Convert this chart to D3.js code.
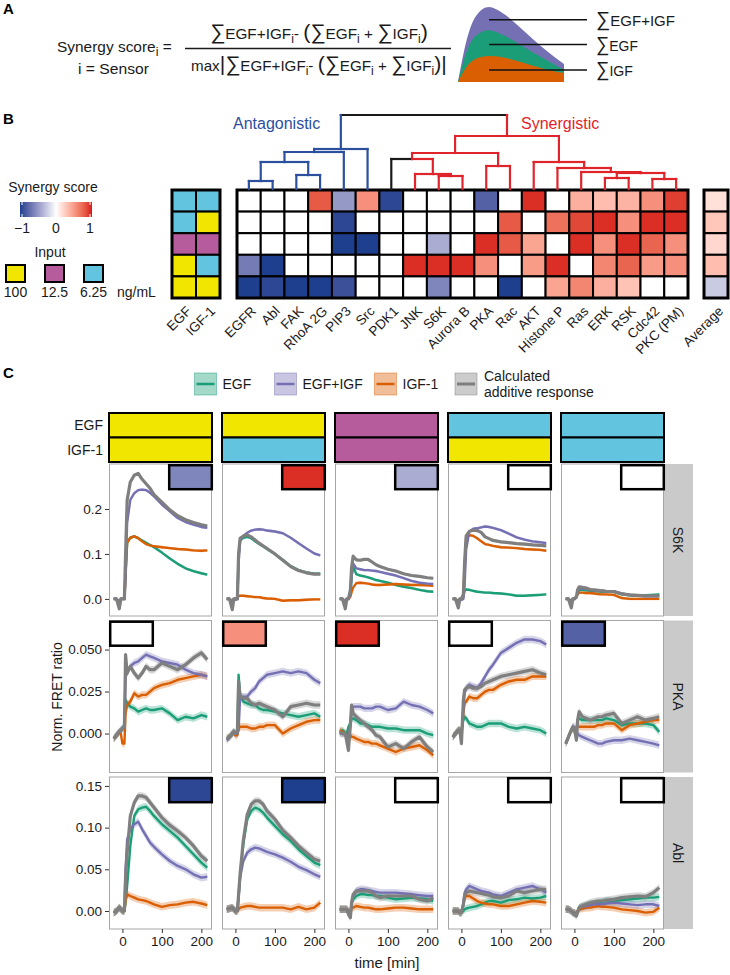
<!DOCTYPE html>
<html><head><meta charset="utf-8">
<script src="https://cdn.jsdelivr.net/npm/d3@7"></script>
<style>body{margin:0;background:#fff}svg{font-family:"Liberation Sans",Arial,Helvetica,sans-serif}</style>
</head><body><svg id="c" width="730" height="975"></svg>
<script>
// ================= DATA =================
const sensors=["EGFR","Abl","FAK","RhoA 2G","PIP3","Src","PDK1","JNK","S6K","Aurora B","PKA","Rac","AKT","Histone P","Ras","ERK","RSK","Cdc42","PKC (PM)"];
const inputNames=["EGF","IGF-1"];
const egfDose=["6.25","6.25","12.5","100","100"];
const igfDose=["6.25","100","12.5","6.25","100"];
const doseLevels=["100","12.5","6.25"];
// synergy scores, heatmap rows top->bottom
const syn_cc=[0,0,0,0.8,-0.5,0.55,-0.95,0,0,0,-0.8,0,0.95,0,0.4,0.33,0.38,0.55,0.9];
const syn_cy=[0,0,0,0,-0.95,0,0,0,0,0,0,0.8,0,0.7,0.87,0.95,0.55,0.95,0.95];
const syn_mm=[0,0,0,0,-1,-1,0,0,-0.4,0,0.95,0.8,0.45,0,0.95,0.55,0.95,0.75,0.55];
const syn_yc=[-0.65,-1,0,0,0,0,0,0.95,0.95,0.95,0.55,0,0.5,0.95,0,0.6,0.75,0.5,0.55];
const syn_yy=[-1,-0.95,-1,-1,-0.9,0,0,0,-0.6,0,0,-1,0,0.45,0.6,0.4,0.3,0,0];
const avgScore=[0.15,0.28,0.2,0.33,-0.25];
// dendrogram merges (hclust style: negative = leaf, positive = merge #)
const mergeA=[-1,-3,1,3,4,-9,-8,-7,-11,8,-16,-18,11,-15,-14,-13,10,5];
const mergeB=[-2,-4,2,-5,-6,-10,6,7,-12,9,-17,-19,12,13,14,15,16,17];
const mergeH=[8,14,27,37,40,13,15,30,23,36,11,10,16,17,21,27,53,74];
const leafGroup=["A","A","A","A","A","A","N","S","S","S","S","S","S","S","S","S","S","S","S"];
const groupLabels=["Antagonistic","Synergistic"];
const scoreTicks=[-1,0,1];
// panel A sketch curves
const sketchT=[0,0.08,0.17,0.29,0.42,0.56,0.7,0.85,1.0];
const sketchSum=[0,0.55,0.88,1.0,0.92,0.76,0.58,0.4,0.24];
const sketchEGF=[0,0.4,0.62,0.69,0.63,0.52,0.4,0.28,0.16];
const sketchIGF=[0,0.2,0.31,0.347,0.33,0.28,0.22,0.16,0.12];
// panel C time courses (5 input conditions each: yy, yc, mm, cy, cc)
const times=[-22,-15,-8,-4,0,5,8,12,20,30,40,50,60,70,80,100,120,140,160,180,200,215];
const S6K_EGF=[
[0,0,-0.01,0,0,0,0.06,0.125,0.136,0.139,0.135,0.13,0.125,0.12,0.115,0.103,0.09,0.078,0.068,0.062,0.057,0.054],
[0,0,-0.01,0,0,0,0.095,0.13,0.136,0.138,0.135,0.128,0.122,0.117,0.111,0.1,0.087,0.073,0.064,0.059,0.056,0.056],
[0,0,-0.008,0,0,0.01,0.05,0.072,0.055,0.052,0.05,0.048,0.045,0.042,0.04,0.036,0.031,0.027,0.024,0.02,0.017,0.016],
[0,0,-0.005,0,0,0.005,0.018,0.021,0.02,0.018,0.016,0.015,0.014,0.014,0.013,0.012,0.01,0.007,0.007,0.008,0.009,0.01],
[0,0,-0.005,0,0,0.003,0.012,0.02,0.02,0.019,0.018,0.017,0.017,0.016,0.016,0.016,0.01,0.008,0.008,0.008,0.009,0.01]];
const S6K_IGF=[
[0,0,-0.01,0,0,0,0.05,0.125,0.136,0.139,0.135,0.128,0.122,0.119,0.117,0.115,0.113,0.111,0.11,0.108,0.107,0.108],
[0,0,-0.005,0,0,0.004,0.006,0.007,0.007,0.006,0.005,0.004,0.004,0.002,0.001,0,-0.004,-0.003,-0.003,-0.002,-0.001,-0.001],
[0,0,-0.005,0,0,0.005,0.015,0.025,0.035,0.036,0.035,0.034,0.032,0.031,0.031,0.032,0.033,0.032,0.031,0.031,0.03,0.029],
[0,0,-0.005,0,0,0.01,0.07,0.135,0.142,0.14,0.135,0.128,0.122,0.12,0.118,0.115,0.114,0.113,0.111,0.11,0.109,0.107],
[0,0,-0.005,0,0,0.003,0.01,0.014,0.014,0.013,0.013,0.012,0.011,0.01,0.01,0.009,0.002,0,0,0,0,0]];
const S6K_BOTH=[
[0,0,-0.005,0,0,0,0.05,0.17,0.22,0.235,0.242,0.243,0.242,0.236,0.228,0.21,0.195,0.18,0.171,0.165,0.16,0.158],
[0,0,-0.005,0,-0.002,0,0.08,0.13,0.14,0.147,0.152,0.154,0.155,0.154,0.152,0.15,0.146,0.136,0.124,0.112,0.101,0.097],
[0,0,-0.005,0,0,0.01,0.05,0.079,0.068,0.066,0.064,0.064,0.063,0.062,0.06,0.056,0.052,0.046,0.04,0.036,0.034,0.033],
[0,0,-0.008,-0.003,-0.002,0,0.03,0.11,0.15,0.156,0.157,0.159,0.161,0.16,0.158,0.153,0.145,0.137,0.132,0.128,0.126,0.124],
[0,0,-0.006,0,0,0.004,0.015,0.024,0.023,0.022,0.02,0.019,0.018,0.018,0.017,0.017,0.012,0.009,0.007,0.006,0.006,0.006]];
const S6K_CALC=[
[0,0,-0.022,0,0,0,0.1,0.22,0.26,0.275,0.279,0.266,0.256,0.246,0.232,0.215,0.198,0.185,0.176,0.17,0.165,0.162],
[0,0,-0.024,0,0,0,0.1,0.135,0.14,0.142,0.138,0.131,0.124,0.118,0.112,0.1,0.086,0.072,0.063,0.058,0.055,0.055],
[0,0,-0.022,0,0,0.02,0.07,0.095,0.087,0.086,0.088,0.088,0.082,0.076,0.072,0.066,0.062,0.056,0.052,0.05,0.047,0.046],
[0,0,-0.02,0,0,0.01,0.08,0.14,0.15,0.153,0.152,0.148,0.138,0.134,0.13,0.127,0.125,0.123,0.122,0.12,0.119,0.118],
[0,0,-0.02,0,0,0.005,0.02,0.027,0.026,0.024,0.021,0.02,0.019,0.018,0.017,0.016,0.011,0.009,0.008,0.007,0.007,0.007]];
const PKA_EGF=[
[-0.003,-0.001,0.001,0.002,0.003,0.004,0.02,0.018,0.016,0.015,0.013,0.014,0.015,0.014,0.014,0.015,0.012,0.008,0.01,0.009,0.011,0.01],
[-0.003,-0.002,0,0.001,0,0.001,0.035,0.023,0.019,0.018,0.017,0.017,0.015,0.014,0.014,0.013,0.012,0.011,0.01,0.011,0.012,0.01],
[0.001,0.002,0,0,0.004,0.006,0.009,0.009,0.008,0.006,0.006,0.005,0.004,0.004,0.004,0.003,0.003,0.002,0.002,0.002,0,-0.001],
[-0.002,0,0.002,0.002,0.002,0.008,0.01,0.009,0.006,0.005,0.004,0.004,0.005,0.006,0.006,0.006,0.004,0.003,0.004,0.003,0.002,0],
[-0.006,-0.002,0.002,0.003,0.002,0.002,0.008,0.009,0.008,0.008,0.008,0.008,0.008,0.008,0.009,0.008,0.005,0.006,0.006,0.006,0.005,0.001]];
const PKA_IGF=[
[-0.003,-0.001,0.001,0,-0.006,-0.006,0.012,0.017,0.019,0.024,0.022,0.023,0.023,0.025,0.027,0.029,0.03,0.032,0.033,0.034,0.035,0.034],
[-0.003,-0.002,0,0.001,-0.001,-0.001,0.003,0.004,0.004,0.004,0.003,0.003,0.004,0.004,0.005,0.005,0,0.003,0.005,0.007,0.008,0.008],
[0.002,0.001,0,-0.001,-0.001,-0.001,-0.002,-0.002,-0.003,-0.004,-0.005,-0.005,-0.006,-0.006,-0.007,-0.009,-0.011,-0.009,-0.008,-0.007,-0.01,-0.013],
[-0.002,0,0.002,0.002,0,0.012,0.018,0.019,0.022,0.021,0.021,0.023,0.025,0.026,0.026,0.029,0.031,0.032,0.032,0.034,0.034,0.034],
[-0.006,-0.002,0.002,0.003,0.002,0.002,0.004,0.004,0.004,0.004,0.004,0.004,0.005,0.005,0.006,0.006,0.002,0.005,0.006,0.007,0.008,0.008]];
const PKA_BOTH=[
[-0.003,-0.001,0.001,0.002,0.003,0.004,0.034,0.036,0.04,0.042,0.043,0.045,0.047,0.046,0.045,0.043,0.042,0.041,0.038,0.036,0.035,0.034],
[-0.004,-0.002,0,0.001,0,0,0.002,0.022,0.022,0.022,0.025,0.027,0.031,0.033,0.035,0.036,0.037,0.036,0.037,0.036,0.032,0.03],
[0,0,0,-0.002,-0.004,0.005,0.014,0.016,0.016,0.016,0.015,0.015,0.015,0.016,0.016,0.014,0.015,0.019,0.017,0.016,0.014,0.012],
[-0.002,0,0.002,0.002,-0.004,0.015,0.024,0.027,0.029,0.028,0.027,0.03,0.034,0.038,0.041,0.048,0.051,0.054,0.056,0.056,0.055,0.053],
[-0.006,-0.002,0.002,0.004,0.004,-0.003,0,-0.001,-0.002,-0.003,-0.004,-0.005,-0.006,-0.006,-0.005,-0.004,-0.004,-0.003,-0.004,-0.005,-0.006,-0.007]];
const PKA_CALC=[
[-0.003,-0.001,0.001,0.002,0.003,0.004,0.047,0.036,0.04,0.036,0.033,0.036,0.04,0.038,0.038,0.042,0.04,0.038,0.041,0.045,0.048,0.044],
[-0.003,-0.002,0,0.001,0,0.001,0.031,0.022,0.021,0.021,0.018,0.017,0.018,0.017,0.016,0.014,0.01,0.016,0.017,0.018,0.017,0.017],
[0.001,0,0,-0.005,-0.01,0.005,0.017,0.012,0.01,0.008,0.006,0.004,0.002,-0.001,-0.002,-0.008,-0.006,-0.009,-0.005,-0.002,-0.008,-0.011],
[-0.002,0,0.002,0.002,-0.006,0.02,0.026,0.027,0.028,0.027,0.027,0.028,0.03,0.031,0.032,0.034,0.035,0.036,0.037,0.038,0.036,0.035],
[-0.006,-0.002,0.002,0.004,0.003,-0.004,0.008,0.013,0.01,0.009,0.008,0.009,0.01,0.01,0.011,0.012,0.006,0.008,0.01,0.008,0.009,0.01]];
const ABL_EGF=[
[-0.002,0,0.004,0.002,0,0,0.01,0.03,0.078,0.114,0.122,0.124,0.125,0.12,0.114,0.104,0.096,0.088,0.078,0.068,0.058,0.052],
[0.002,0.003,0.004,0.002,0,0,0.018,0.042,0.08,0.11,0.12,0.124,0.122,0.118,0.112,0.102,0.092,0.084,0.074,0.066,0.058,0.055],
[0.002,0.002,0.002,0.002,0,-0.004,0.008,0.014,0.018,0.02,0.02,0.019,0.019,0.018,0.018,0.016,0.014,0.015,0.016,0.015,0.014,0.012],
[0,0,0,-0.002,-0.002,0,0.002,0.003,0.004,0.005,0.006,0.008,0.01,0.012,0.012,0.01,0.013,0.014,0.016,0.015,0.016,0.018],
[0.002,0.002,0,-0.002,-0.002,-0.004,0,0.004,0.005,0.007,0.008,0.009,0.01,0.011,0.012,0.012,0.013,0.014,0.015,0.016,0.016,0.017]];
const ABL_IGF=[
[-0.002,0,0.004,0.002,0,0,0.012,0.02,0.018,0.016,0.014,0.013,0.012,0.01,0.008,0.005,0.007,0.008,0.01,0.011,0.009,0.007],
[0.002,0.003,0.004,0.002,0,0,0.002,0.004,0.005,0.006,0.006,0.005,0.004,0.004,0.004,0.004,0.004,0.002,0.005,0.002,0.004,0.01],
[0.002,0.002,0.002,0.002,0,-0.002,0.003,0.004,0.006,0.005,0.004,0.004,0.003,0.002,0.002,0.003,0.004,0.004,0.003,0.002,0.002,0.002],
[0,0,0,-0.002,-0.002,0.008,0.015,0.018,0.018,0.015,0.012,0.01,0.009,0.008,0.008,0.006,0.006,0.008,0.01,0.012,0.011,0.01],
[0.002,0.002,0,-0.002,-0.002,-0.004,0,0.002,0.003,0.004,0.004,0.005,0.006,0.005,0.005,0.004,0.002,0.001,0,-0.002,-0.001,0.004]];
const ABL_BOTH=[
[-0.002,0,0.004,0.002,0,0,0.05,0.086,0.098,0.104,0.107,0.098,0.09,0.082,0.077,0.068,0.06,0.054,0.05,0.044,0.04,0.041],
[0.002,0.003,0.004,0.002,0,0,0.015,0.04,0.06,0.07,0.074,0.076,0.075,0.073,0.071,0.068,0.064,0.059,0.053,0.049,0.044,0.041],
[0.002,0.002,0.002,0.002,0,-0.004,0.01,0.018,0.024,0.026,0.026,0.025,0.024,0.023,0.022,0.022,0.022,0.021,0.02,0.019,0.018,0.018],
[0,0,0,-0.002,-0.002,0.01,0.022,0.026,0.03,0.028,0.026,0.024,0.023,0.022,0.02,0.018,0.022,0.026,0.028,0.03,0.026,0.022],
[0.002,0.002,0,-0.002,-0.002,-0.004,-0.001,0.004,0.005,0.006,0.007,0.008,0.008,0.008,0.009,0.01,0.009,0.008,0.007,0.008,0.008,0.006]];
const ABL_CALC=[
[-0.002,0,0.004,0.002,0,0,0.04,0.07,0.114,0.13,0.138,0.138,0.136,0.13,0.124,0.112,0.103,0.096,0.088,0.078,0.066,0.06],
[0.002,0.003,0.004,0.002,0,0,0.02,0.045,0.085,0.116,0.128,0.132,0.132,0.128,0.12,0.11,0.097,0.088,0.078,0.07,0.062,0.06],
[0.002,0.002,0.002,0.002,-0.004,-0.008,0.01,0.02,0.024,0.024,0.024,0.024,0.022,0.018,0.016,0.018,0.018,0.018,0.018,0.014,0.012,0.016],
[0,0,0,-0.002,-0.002,0.008,0.018,0.022,0.024,0.023,0.022,0.021,0.02,0.019,0.017,0.016,0.018,0.024,0.022,0.024,0.026,0.026],
[0.002,0.002,0,-0.002,-0.004,-0.006,-0.002,0.004,0.006,0.008,0.01,0.011,0.012,0.012,0.013,0.014,0.016,0.017,0.018,0.017,0.022,0.028]];
const rowSensors=["S6K","PKA","Abl"];
const rowCI=[0.003,0.0022,0.0045];
const seriesNames=["EGF","EGF+IGF","IGF-1","Calculated additive response"];
const xTicks=[0,100,200];
const S6K_ticks=[0,0.1,0.2], PKA_ticks=[0,0.025,0.05], ABL_ticks=[0,0.05,0.1,0.15];

// ================= DRAW =================
const svg=d3.select("#c");
const INK="#1a1a1a";
const doseColor=d3.scaleOrdinal().domain(doseLevels).range(["#f1e600","#b65b9b","#63c4e0"]);
const scoreColor=d3.scaleLinear().domain([-1,0,1]).range(["#1e3f8e","#ffffff","#d7191c"]).interpolate(d3.interpolateLab).clamp(true);
const serColor=d3.scaleOrdinal().domain(seriesNames).range(["#1b9e77","#7570b3","#d95f02","#7f7f7f"]);

function letter(t,x,y){svg.append("text").attr("x",x).attr("y",y).attr("font-weight","bold").attr("font-size",15).attr("fill","#000").text(t);}
letter("A",3,14);letter("B",3,124);letter("C",3,378);

// ---------- Panel A ----------
function mathText(x,y,parts,fs,big,width){
  const t=svg.append("text").attr("font-size",fs).attr("fill",INK);
  let cur=0;
  parts.forEach(p=>{const s=p.sub?4:0;const ts=t.append("tspan").text(p.t).attr("dy",s-cur);cur=s;
    if(p.big)ts.attr("font-size",big); if(p.sub)ts.attr("font-size",fs*0.8);});
  const bb=t.node().getBBox(); const sx=width?width/bb.width:1;
  t.attr("transform",`translate(${x-bb.x*sx},${y}) scale(${sx},1)`);
  return t;
}
const NB="\u00a0";
mathText(57,52,[{t:"Synergy score"},{t:"i",sub:1},{t:NB+"="}],15,20,115);
mathText(78,74,[{t:"i = Sensor"}],15,20,71);
const numParts=[{t:"∑",big:1},{t:"EGF+IGF"},{t:"i",sub:1},{t:"-"+NB},{t:"(",big:1},{t:"∑",big:1},{t:"EGF"},{t:"i",sub:1},{t:NB+"+"+NB},{t:"∑",big:1},{t:"IGF"},{t:"i",sub:1},{t:")",big:1}];
mathText(210,39,numParts,15,21,218);
svg.append("line").attr("x1",185).attr("x2",451).attr("y1",48.5).attr("y2",48.5).attr("stroke",INK).attr("stroke-width",1.3);
const denParts=[{t:"max"},{t:"|",big:1},{t:"∑",big:1},{t:"EGF+IGF"},{t:"i",sub:1},{t:"-"+NB},{t:"(",big:1},{t:"∑",big:1},{t:"EGF"},{t:"i",sub:1},{t:NB+"+"+NB},{t:"∑",big:1},{t:"IGF"},{t:"i",sub:1},{t:")",big:1},{t:"|",big:1}];
mathText(191,71,denParts,15,21,256);

const aX=d3.scaleLinear().domain([0,1]).range([458,564]);
const aY=d3.scaleLinear().domain([0,1]).range([82,7]);
[[sketchSum,"EGF+IGF"],[sketchEGF,"EGF"],[sketchIGF,"IGF-1"]].forEach(([vals,name])=>{
  const ar=d3.area().x((d,i)=>aX(sketchT[i])).y0(aY(0)).y1(d=>aY(d)).curve(d3.curveMonotoneX);
  svg.append("path").attr("d",ar(vals)).attr("fill",serColor(name));
});
const sketchLabels=[[[{t:"∑",big:1},{t:"EGF+IGF"}],0.83,79],[[{t:"∑",big:1},{t:"EGF"}],0.5,42],[[{t:"∑",big:1},{t:"IGF"}],0.16,37]];
sketchLabels.forEach(([parts,v,w])=>{
  const y=aY(v);
  svg.append("line").attr("x1",489).attr("x2",587).attr("y1",y).attr("y2",y).attr("stroke","#111").attr("stroke-width",1.5);
  mathText(596,y+6,parts,15,20,w);
});

// ---------- Panel B ----------
const synRows=[syn_cc,syn_cy,syn_mm,syn_yc,syn_yy];
const xH=d3.scaleBand().domain(sensors).range([237,688]);
const yH=d3.scaleBand().domain(d3.range(5)).range([190,298]);
const xI=d3.scaleBand().domain(inputNames).range([172,220]);
const xA=d3.scaleBand().domain(["Average"]).range([704,728]);
const gH=svg.append("g");
synRows.forEach((row,r)=>row.forEach((v,c)=>{
  gH.append("rect").attr("x",xH(sensors[c])).attr("y",yH(r)).attr("width",xH.bandwidth()).attr("height",yH.bandwidth())
    .attr("fill",scoreColor(v)).attr("stroke","#000").attr("stroke-width",2);
}));
egfDose.forEach((d,r)=>{[d,igfDose[r]].forEach((dd,c)=>{
  gH.append("rect").attr("x",xI(inputNames[c])).attr("y",yH(r)).attr("width",xI.bandwidth()).attr("height",yH.bandwidth())
    .attr("fill",doseColor(dd)).attr("stroke","#000").attr("stroke-width",2);});});
avgScore.forEach((v,r)=>gH.append("rect").attr("x",xA("Average")).attr("y",yH(r)).attr("width",xA.bandwidth()).attr("height",yH.bandwidth())
  .attr("fill",scoreColor(v)).attr("stroke","#000").attr("stroke-width",2));
[[xH,237,688],[xI,172,220],[xA,704,728]].forEach(([s,a,b])=>gH.append("rect").attr("x",a).attr("y",190).attr("width",b-a).attr("height",108).attr("fill","none").attr("stroke","#000").attr("stroke-width",3));
function colLabels(scale,names){names.forEach(n=>{
  const x=scale(n)+scale.bandwidth()/2+8, y=312;
  svg.append("text").attr("transform",`translate(${x},${y}) rotate(-45)`).attr("text-anchor","end").attr("font-size",13.5).attr("fill",INK).text(n);});}
colLabels(xH,sensors);colLabels(xI,inputNames);colLabels(xA,["Average"]);

// dendrogram
const hY=d3.scaleLinear().domain([0,d3.max(mergeH)]).range([189,115]);
const grpColor={A:"#2c4f9e",S:"#e0242b",N:"#1a1a1a"};
const nodes=[];
function ref(k){ if(k<0){const i=-k-1;return {x:xH(sensors[i])+xH.bandwidth()/2,h:0,leaves:[i]};} return nodes[k-1]; }
mergeA.forEach((a,i)=>{const A=ref(a),B=ref(mergeB[i]);
  const leaves=A.leaves.concat(B.leaves);
  const cnt=d3.rollup(leaves,v=>v.length,l=>leafGroup[l]);
  const maj=Array.from(cnt).sort((p,q)=>q[1]-p[1])[0][0];
  nodes.push({x:(A.x+B.x)/2,h:mergeH[i],leaves,a:A,b:B,col:grpColor[maj]});});
const nodeCol=n=>n.col||grpColor[leafGroup[n.leaves[0]]];
const gD=svg.append("g").attr("fill","none").attr("stroke-width",2.2).attr("stroke-linecap","square");
nodes.forEach((n,i)=>{const isRoot=i===nodes.length-1;
  [n.a,n.b].forEach(ch=>{const c=nodeCol(ch);
    gD.append("line").attr("x1",n.x).attr("x2",ch.x).attr("y1",hY(n.h)).attr("y2",hY(n.h)).attr("stroke",isRoot?"#1a1a1a":c);
    gD.append("line").attr("x1",ch.x).attr("x2",ch.x).attr("y1",hY(n.h)).attr("y2",hY(ch.h)).attr("stroke",c);});});
svg.append("text").attr("x",233).attr("y",129).attr("font-size",16).attr("fill",grpColor.A).text(groupLabels[0]);
svg.append("text").attr("x",521).attr("y",129).attr("font-size",16).attr("fill",grpColor.S).text(groupLabels[1]);

// legends
svg.append("text").attr("x",53).attr("y",192).attr("text-anchor","middle").attr("font-size",14).attr("fill",INK).text("Synergy score");
const defs=svg.append("defs");
const lg=defs.append("linearGradient").attr("id","sg");
d3.range(0,1.001,0.1).forEach(o=>lg.append("stop").attr("offset",o).attr("stop-color",scoreColor(-1+2*o)));
svg.append("rect").attr("x",20).attr("y",202).attr("width",72).attr("height",15).attr("fill","url(#sg)");
const lsx=d3.scaleLinear().domain([-1,1]).range([22,90]);
scoreTicks.forEach(v=>{
  svg.append("line").attr("x1",lsx(v)).attr("x2",lsx(v)).attr("y1",202).attr("y2",205).attr("stroke","#fff");
  svg.append("line").attr("x1",lsx(v)).attr("x2",lsx(v)).attr("y1",214).attr("y2",217).attr("stroke","#fff");
  svg.append("text").attr("x",lsx(v)).attr("y",233).attr("text-anchor","middle").attr("font-size",14).attr("fill",INK).text(v<0?"\u2212"+Math.abs(v):v);});
svg.append("text").attr("x",50).attr("y",257).attr("text-anchor","middle").attr("font-size",14).attr("fill",INK).text("Input");
const lix=d3.scalePoint().domain(doseLevels).range([15.5,93.5]);
doseLevels.forEach(d=>{
  svg.append("rect").attr("x",lix(d)-9.5).attr("y",265).attr("width",19).attr("height",17).attr("fill",doseColor(d)).attr("stroke","#000").attr("stroke-width",2);
  svg.append("text").attr("x",lix(d)).attr("y",297).attr("text-anchor","middle").attr("font-size",14).attr("fill",INK).text(d);});
svg.append("text").attr("x",117).attr("y",297).attr("font-size",14).attr("fill",INK).text("ng/mL");

// ---------- Panel C ----------
// legend
const legX=[194.5,274.5,374.5,455];
seriesNames.forEach((s,i)=>{
  const x=legX[i],y=373,c=serColor(s);
  svg.append("rect").attr("x",x).attr("y",y).attr("width",22).attr("height",22).attr("fill",c).attr("fill-opacity",0.4).attr("stroke",c).attr("stroke-opacity",0.45);
  svg.append("line").attr("x1",x+2).attr("x2",x+20).attr("y1",y+11).attr("y2",y+11).attr("stroke",c).attr("stroke-width",i===3?3:2.5);
  if(i<3) svg.append("text").attr("x",x+28).attr("y",y+16).attr("font-size",14).attr("fill",INK).text(s);
  else {const w=s.split(" ");
    svg.append("text").attr("x",x+29).attr("y",y+8).attr("font-size",14).attr("fill",INK).text(w[0]);
    svg.append("text").attr("x",x+29).attr("y",y+24).attr("font-size",14).attr("fill",INK).text(w.slice(1).join(" "));}
});

const panelOrder=[4,3,2,1,0];
const colX=d3.scaleBand().domain(d3.range(5)).range([109,664]).paddingInner(10/113).paddingOuter(0);
const pw=colX.bandwidth();
const rowTop=[464,620.5,777], ph=152;
const xT=d3.scaleLinear().domain([-34,227]).range([0,pw]);
const rowDomains=[[-0.038,0.3],[-0.0232,0.0673],[-0.0216,0.1607]];
const rowTicks=[S6K_ticks,PKA_ticks,ABL_ticks];
const rowFmt=[d3.format(".1f"),d3.format(".3f"),d3.format(".2f")];
const rowData=[[S6K_EGF,S6K_BOTH,S6K_IGF,S6K_CALC],[PKA_EGF,PKA_BOTH,PKA_IGF,PKA_CALC],[ABL_EGF,ABL_BOTH,ABL_IGF,ABL_CALC]];
const boxSide=["right","left","right"];

// top strips
d3.range(5).forEach(j=>{
  const r=panelOrder[j];
  [egfDose[r],igfDose[r]].forEach((d,k)=>{
    svg.append("rect").attr("x",colX(j)).attr("y",413+k*24.5).attr("width",pw).attr("height",24.5).attr("fill",doseColor(d)).attr("stroke","#000").attr("stroke-width",2);});
});
svg.append("text").attr("x",103).attr("y",430).attr("text-anchor","end").attr("font-size",14).attr("fill",INK).text("EGF");
svg.append("text").attr("x",103).attr("y",455).attr("text-anchor","end").attr("font-size",14).attr("fill",INK).text("IGF-1");

rowSensors.forEach((sen,ri)=>{
  const y=d3.scaleLinear().domain(rowDomains[ri]).range([rowTop[ri]+ph,rowTop[ri]]);
  const si=sensors.indexOf(sen);
  // right strip
  svg.append("rect").attr("x",664).attr("y",rowTop[ri]).attr("width",29).attr("height",ph).attr("fill","#cacaca");
  svg.append("text").attr("transform",`translate(673,${rowTop[ri]+ph/2}) rotate(90)`).attr("text-anchor","middle").attr("font-size",14).attr("fill",INK).text(sen);
  // y axis
  const ay=svg.append("g").attr("transform",`translate(109,0)`).call(d3.axisLeft(y).tickValues(rowTicks[ri]).tickFormat(rowFmt[ri]).tickSize(4).tickPadding(3));
  ay.select(".domain").remove();
  ay.selectAll("line").attr("stroke","#333");
  ay.selectAll("text").attr("font-size",13.5).attr("fill",INK).attr("font-family",null);
  d3.range(5).forEach(j=>{
    const x0=colX(j), cond=j;
    const g=svg.append("g").attr("transform",`translate(${x0},0)`);
    const cid=`cl${ri}_${j}`;
    defs.append("clipPath").attr("id",cid).append("rect").attr("x",x0).attr("y",rowTop[ri]).attr("width",pw).attr("height",ph);
    g.append("rect").attr("x",0).attr("y",rowTop[ri]).attr("width",pw).attr("height",ph).attr("fill","#fff");
    const gc=svg.append("g").attr("clip-path",`url(#${cid})`).append("g").attr("transform",`translate(${x0},0)`);
    const order=[0,2,1,3];
    order.forEach(k=>{
      const vals=rowData[ri][k][cond], c=serColor(seriesNames[k]);
      const band=d3.area().x((d,i)=>xT(times[i])).y0(d=>y(d-rowCI[ri])).y1(d=>y(d+rowCI[ri]));
      gc.append("path").attr("d",band(vals)).attr("fill",c).attr("fill-opacity",0.3);
    });
    order.forEach(k=>{
      const vals=rowData[ri][k][cond], c=serColor(seriesNames[k]);
      const ln=d3.line().x((d,i)=>xT(times[i])).y(d=>y(d));
      gc.append("path").attr("d",ln(vals)).attr("fill","none").attr("stroke",c).attr("stroke-width",k===3?3.2:2.4).attr("stroke-linejoin","round");
    });
    g.append("rect").attr("x",0.5).attr("y",rowTop[ri]).attr("width",pw-1).attr("height",ph).attr("fill","none").attr("stroke","#a6a6a6").attr("stroke-width",1);
    // synergy box
    const v=synRows[panelOrder[j]][si];
    const bx=boxSide[ri]==="right"?pw-44:0;
    g.append("rect").attr("x",bx+1.2).attr("y",rowTop[ri]+1.2).attr("width",42.6).attr("height",24).attr("fill",scoreColor(v)).attr("stroke","#000").attr("stroke-width",2.5);
    if(ri===2){
      const ax=g.append("g").attr("transform",`translate(0,${rowTop[ri]+ph})`).call(d3.axisBottom(xT).tickValues(xTicks).tickSize(4).tickPadding(3));
      ax.select(".domain").remove(); ax.selectAll("line").attr("stroke","#333");
      ax.selectAll("text").attr("font-size",13.5).attr("fill",INK).attr("font-family",null);
    }
  });
});
svg.append("text").attr("x",387).attr("y",968).attr("text-anchor","middle").attr("font-size",15).attr("fill",INK).text("time [min]");
svg.append("text").attr("transform",`translate(62,697) rotate(-90)`).attr("text-anchor","middle").attr("font-size",14).attr("fill",INK).text("Norm. FRET ratio");
</script></body></html>
